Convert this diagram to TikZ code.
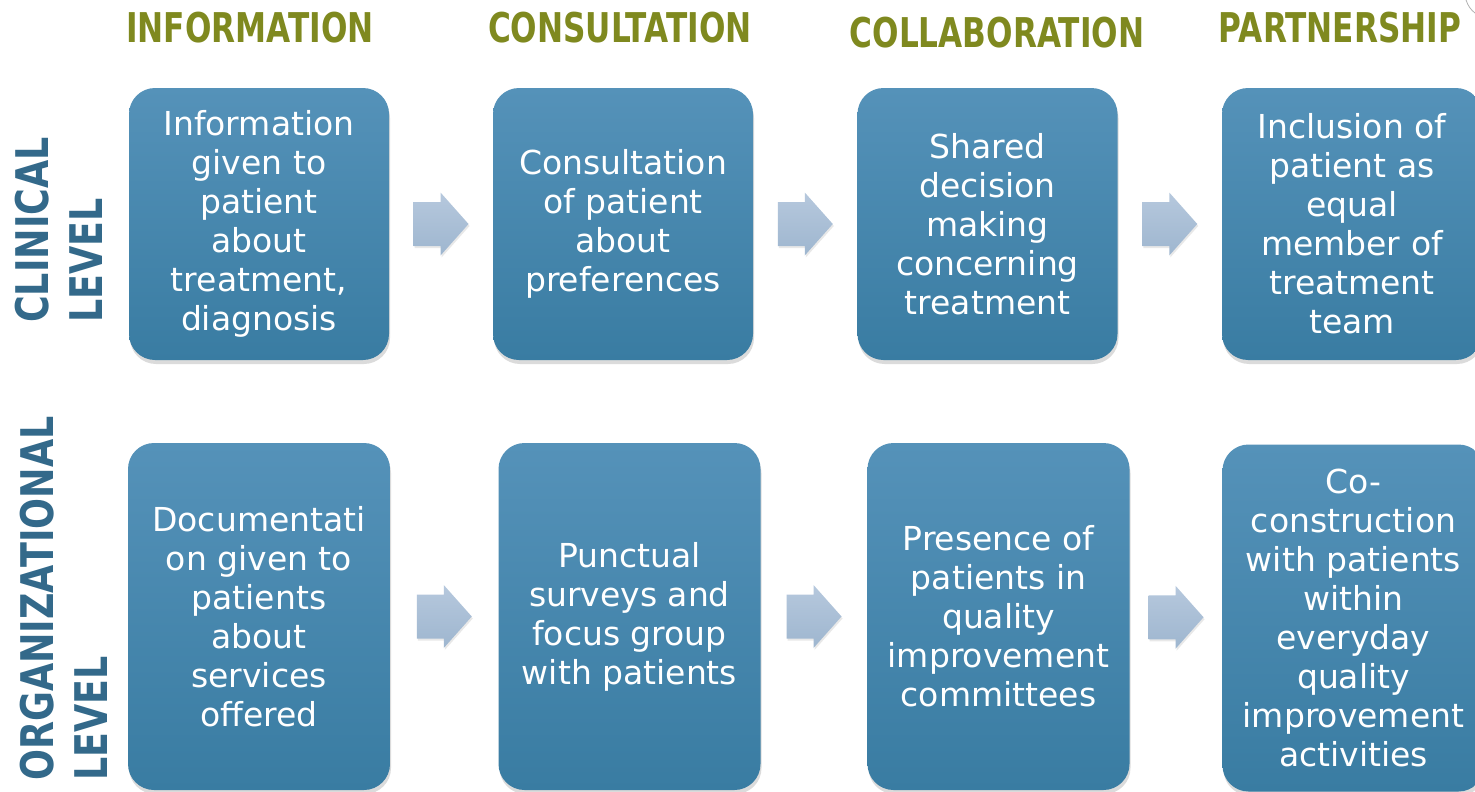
\documentclass[tikz,border=0pt]{standalone}
\usepackage{fontspec}
\setmainfont{DejaVu Sans}
\newfontfamily\headfont{DejaVu Sans}[FakeStretch=0.76]
\newfontfamily\sidefont{DejaVu Sans}[FakeStretch=0.81]
\usetikzlibrary{shadows,calc}

\definecolor{headolive}{RGB}{127,137,31}
\definecolor{sideblue}{RGB}{51,105,138}
\definecolor{boxtop}{RGB}{85,146,185}
\definecolor{boxbot}{RGB}{57,124,162}
\definecolor{arrtop}{RGB}{182,200,221}
\definecolor{arrbot}{RGB}{158,182,207}

% block arrow centred on a named coordinate
\newcommand\blockarrow[1]{%
  \path[flowarrow] ($(#1)+(-27.5,-22)$) -- ($(#1)+(-0.5,-22)$)
    -- ($(#1)+(-0.5,-31.5)$) -- ($(#1)+(27.5,0)$)
    -- ($(#1)+(-0.5,31.5)$) -- ($(#1)+(-0.5,22)$)
    -- ($(#1)+(-27.5,22)$) -- cycle;}

\begin{document}
\begin{tikzpicture}[x=1pt,y=-1pt,
  stepbox/.style={rectangle, rounded corners=26pt, top color=boxtop,
    bottom color=boxbot, draw=none, text=white, align=center, inner sep=0pt,
    font=\fontsize{33}{39}\selectfont,
    drop shadow={shadow xshift=1pt, shadow yshift=-4pt, opacity=0.28}},
  toprow/.style={stepbox, minimum width=260pt, minimum height=272pt},
  botrow/.style={stepbox, minimum width=262pt, minimum height=347pt},
  headlabel/.style={anchor=base, text=headolive, inner sep=0pt,
    font=\headfont\bfseries\fontsize{41}{41}\selectfont},
  sidelabel/.style={anchor=base west, rotate=90, text=sideblue, inner sep=0pt,
    font=\sidefont\bfseries\fontsize{45}{45}\selectfont},
  flowarrow/.style={top color=arrtop, bottom color=arrbot, draw=none,
    drop shadow={shadow xshift=1pt, shadow yshift=-2pt, opacity=0.18}}]

\useasboundingbox (0,0) rectangle (1475,792);
\clip (0,0) rectangle (1475,792);
\fill[white] (0,0) rectangle (1475,792);

% column headings
\node[headlabel] (h1) at (250,43) {INFORMATION};
\node[headlabel] (h2) at (620,43) {CONSULTATION};
\node[headlabel] (h3) at (997,48) {COLLABORATION};
\node[headlabel] (h4) at (1340,43) {PARTNERSHIP};

% row headings
\node[sidelabel] (r1a) at (48,323) {CLINICAL};
\node[sidelabel] (r1b) at (102,323) {LEVEL};
\node[sidelabel] (r2a) at (53,781) {ORGANIZATIONAL};
\node[sidelabel] (r2b) at (107,781) {LEVEL};

% clinical level
\node[toprow] (t1) at (259,224) {Information\\given to\\patient\\about\\treatment,\\diagnosis};
\node[toprow] (t2) at (623,224) {Consultation\\of patient\\about\\preferences};
\node[toprow] (t3) at (987.5,224) {Shared\\decision\\making\\concerning\\treatment};
\node[toprow] (t4) at (1352,224) {Inclusion of\\patient as\\equal\\member of\\treatment\\team};

% organizational level
\node[botrow] (b1) at (259,616.5) {Documentati\\on given to\\patients\\about\\services\\offered};
\node[botrow] (b2) at (629.5,616.5) {Punctual\\surveys and\\focus group\\with patients};
\node[botrow] (b3) at (998.5,616.5) {Presence of\\patients in\\quality\\improvement\\committees};
\node[botrow] (b4) at (1353.5,618) {Co-\\construction\\with patients\\within\\everyday\\quality\\improvement\\activities};

% arrows between the steps
\coordinate (a1) at ($(t1.east)!0.5!(t2.west)$);
\coordinate (a2) at ($(t2.east)!0.5!(t3.west)$);
\coordinate (a3) at ($(t3.east)!0.5!(t4.west)$);
\coordinate (a4) at ($(b1.east)!0.5!(b2.west)$);
\coordinate (a5) at ($(b2.east)!0.5!(b3.west)$);
\coordinate (a6) at ($(b3.east)!0.5!(b4.west)$);
\blockarrow{a1}
\blockarrow{a2}
\blockarrow{a3}
\blockarrow{a4}
\blockarrow{a5}
\blockarrow{a6}

% thin curve in the top right corner
\coordinate (c0) at (1466,0);
\coordinate (c1) at (1475,13);
\draw[black!30, line width=0.8pt] (c0) .. controls (1468,6) and (1471,10) .. (c1);
\end{tikzpicture}
\end{document}
